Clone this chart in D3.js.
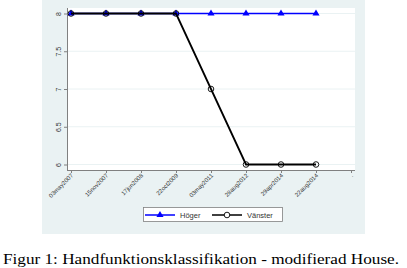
<!DOCTYPE html>
<html><head><meta charset="utf-8">
<script src="https://cdn.jsdelivr.net/npm/d3@7"></script>
<style>body{margin:0;background:#fff}svg{display:block}</style>
</head><body>
<svg id="c" width="407" height="268"></svg>
<script>
const categories = ["03may2007","15nov2007","17jun2008","22oct2009","03may2011","28aug2012","29apr2014","22aug2014","."];
const hoger = [8,8,8,8,8,8,8,8];
const vanster = [8,8,8,8,7,6,6,6];
const yTicks = [6,6.5,7,7.5,8];
const seriesNames = ["Höger","Vänster"];
const caption = "Figur 1: Handfunktionsklassifikation - modifierad House.";

const svg = d3.select("#c");
// outer graph region
svg.append("rect").attr("x",42).attr("y",0).attr("width",323).attr("height",234).attr("fill","#eaf2f3");
const L=67,R=355,T=8,B=170;
svg.append("rect").attr("x",L).attr("y",T).attr("width",R-L).attr("height",B-T).attr("fill","#fff");

const x = d3.scaleLinear().domain([0.886,9.114]).range([L,R]);
const y = d3.scaleLinear().domain([6,8]).range([164.5,13.5]);

// gridlines
svg.append("g").selectAll("line").data(yTicks).join("line")
  .attr("x1",L).attr("x2",R).attr("y1",d=>y(d)).attr("y2",d=>y(d))
  .attr("stroke","#eaf2f3").attr("stroke-width",1);

// y axis
const ya = svg.append("g").attr("transform",`translate(${L},0)`)
  .call(d3.axisLeft(y).tickValues(yTicks).tickSize(3).tickFormat(d=>String(d)));
ya.select(".domain").attr("stroke","#808080").attr("d",`M0.5,${T}V${B}`);
ya.selectAll(".tick line").attr("stroke","#808080");
ya.selectAll(".tick text").attr("font-family","Liberation Sans, Arial, sans-serif").attr("font-size",7)
  .attr("fill","#333").attr("transform","rotate(-90)").attr("x",0).attr("y",-6).attr("dy",0)
  .attr("text-anchor","middle");

// x axis
const xa = svg.append("g").attr("transform",`translate(0,${B})`)
  .call(d3.axisBottom(x).tickValues(d3.range(1,categories.length+1)).tickSize(3).tickFormat(d=>categories[d-1]));
xa.select(".domain").attr("stroke","#808080").attr("d",`M${L},0.5H${R}`);
xa.selectAll(".tick line").attr("stroke","#808080");
xa.selectAll(".tick text").attr("font-family","Liberation Sans, Arial, sans-serif").attr("font-size",6)
  .attr("fill","#333").attr("text-anchor","end").attr("dy",0).attr("y",0)
  .attr("transform","translate(2,6) rotate(-45)");

const line = d3.line().x((d,i)=>x(i+1)).y(d=>y(d));
svg.append("path").datum(hoger).attr("d",line).attr("fill","none").attr("stroke","#0000ff").attr("stroke-width",1.5);
const tri = d3.symbol().type(d3.symbolTriangle).size(22);
svg.append("g").selectAll("path").data(hoger).join("path")
  .attr("d",tri).attr("transform",(d,i)=>`translate(${x(i+1)},${y(d)})`).attr("fill","#0000ff");
svg.append("path").datum(vanster).attr("d",line).attr("fill","none").attr("stroke","#000").attr("stroke-width",1.8);
svg.append("g").selectAll("circle").data(vanster).join("circle")
  .attr("cx",(d,i)=>x(i+1)).attr("cy",d=>y(d)).attr("r",2.8).attr("fill","none").attr("stroke","#000").attr("stroke-width",0.9);

// legend
const lg = svg.append("g");
lg.append("rect").attr("x",143.5).attr("y",207.5).attr("width",139).attr("height",14).attr("fill","#fff").attr("stroke","#808080").attr("stroke-width",0.8);
const ly=215;
lg.append("line").attr("x1",145).attr("x2",175).attr("y1",ly).attr("y2",ly).attr("stroke","#0000ff").attr("stroke-width",1.5);
lg.append("path").attr("d",tri).attr("transform",`translate(160,${ly})`).attr("fill","#0000ff");
lg.append("text").attr("x",180).attr("y",ly+2.5).text(seriesNames[0]).attr("font-family","Liberation Sans, Arial, sans-serif").attr("font-size",7.5).attr("fill","#333");
lg.append("line").attr("x1",212).attr("x2",242).attr("y1",ly).attr("y2",ly).attr("stroke","#000").attr("stroke-width",1.5);
lg.append("circle").attr("cx",227).attr("cy",ly).attr("r",2.8).attr("fill","#fff").attr("stroke","#000").attr("stroke-width",0.9);
lg.append("text").attr("x",247).attr("y",ly+2.5).text(seriesNames[1]).attr("font-family","Liberation Sans, Arial, sans-serif").attr("font-size",7.5).attr("fill","#333");

svg.append("text").attr("x",3).attr("y",264).text(caption)
  .attr("font-family","Liberation Serif, serif").attr("font-size",15).attr("fill","#000")
  .attr("textLength",396).attr("lengthAdjust","spacingAndGlyphs");
</script>
</body></html>
